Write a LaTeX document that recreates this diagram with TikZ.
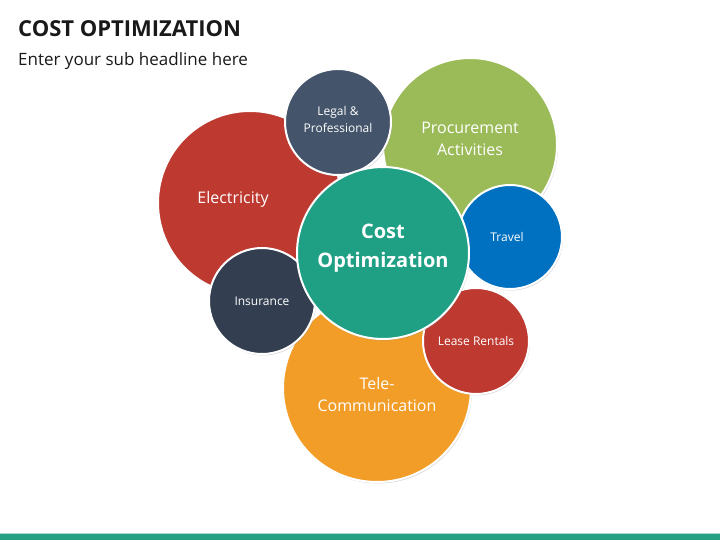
\documentclass[tikz,border=0pt]{standalone}
\usepackage{fontspec}
\setmainfont{Open Sans}
\usetikzlibrary{shadows}

% colours of the bubbles
\definecolor{elecred}{RGB}{190,57,48}
\definecolor{legalslate}{RGB}{68,84,106}
\definecolor{procgreen}{RGB}{155,187,89}
\definecolor{costteal}{RGB}{31,160,133}
\definecolor{travelblue}{RGB}{0,112,192}
\definecolor{insurdark}{RGB}{51,63,80}
\definecolor{teleorange}{RGB}{242,157,40}
\definecolor{bartteal}{RGB}{36,160,130}

\begin{document}
\begin{tikzpicture}[x=1pt, y=-1pt,
  bubble/.style={circle, draw=white, line width=2pt, inner sep=0pt,
    drop shadow={shadow xshift=1pt, shadow yshift=-1.5pt, opacity=0.3}},
  bubble text/.style={text=white, align=center, inner sep=0pt},
  big text/.style={bubble text, font=\fontsize{16}{22}\selectfont},
  small text/.style={bubble text, font=\fontsize{12}{17}\selectfont}]
  % page frame
  \useasboundingbox (0,0) rectangle (720,540);

  % heading
  \node (title) [anchor=base west, inner sep=0pt, text=black!90,
    font=\fontsize{22}{26}\selectfont\bfseries] at (18,37) {COST OPTIMIZATION};
  \node (subtitle) [anchor=base west, inner sep=0pt, text=black!90,
    font=\fontsize{17}{20}\selectfont] at (18,66) {Enter your sub headline here};

  % the bubbles, back to front
  \node (elec)   [bubble, fill=elecred,    minimum size=184pt] at (250,203) {};
  \node (proc)   [bubble, fill=procgreen,  minimum size=174pt] at (470,145) {};
  \node (legal)  [bubble, fill=legalslate, minimum size=106pt] at (338,122) {};
  \node (tele)   [bubble, fill=teleorange, minimum size=188pt] at (377,388) {};
  \node (insur)  [bubble, fill=insurdark,  minimum size=106pt] at (262,301) {};
  \node (lease)  [bubble, fill=elecred,    minimum size=106pt] at (476,341) {};
  \node (travel) [bubble, fill=travelblue, minimum size=104pt] at (510,237) {};
  \node (cost)   [bubble, fill=costteal,   minimum size=172pt] at (383,253) {};

  % texts in the bubbles
  \node (elec-text)   [big text, xshift=-17pt, yshift=4pt] at (elec) {Electricity};
  \node (proc-text)   [big text, yshift=6pt] at (proc) {Procurement\\Activities};
  \node (legal-text)  [small text, yshift=2pt] at (legal) {Legal \&\\Professional};
  \node (tele-text)   [big text, yshift=-6pt] at (tele) {Tele-\\Communication};
  \node (insur-text)  [small text] at (insur) {Insurance};
  \node (lease-text)  [small text] at (lease) {Lease Rentals};
  \node (travel-text) [small text, xshift=-3pt] at (travel) {Travel};
  \node (cost-text)   [bubble text, yshift=5pt,
    font=\fontsize{20}{29}\selectfont\bfseries] at (cost) {Cost\\Optimization};

  % bottom bar
  \fill[bartteal] (0,534) rectangle (720,540);
  \draw[bartteal!40, line width=0.6pt] (0,533.7) -- (720,533.7);
\end{tikzpicture}
\end{document}
